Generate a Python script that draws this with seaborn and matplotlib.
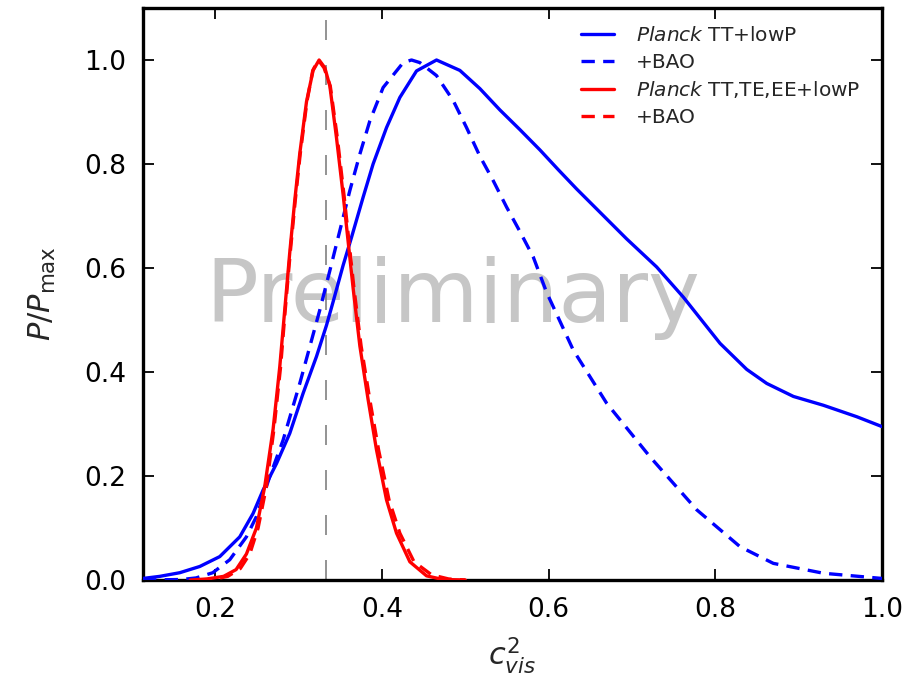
import matplotlib
matplotlib.use("Agg")
import matplotlib.pyplot as plt
import seaborn as sns
import pandas as pd

# ---- data ----
tt_x = [0.1133, 0.1334, 0.1574, 0.1814, 0.2054, 0.2294, 0.2454, 0.2574, 0.2735, 0.2894,
        0.3054, 0.3215, 0.3335, 0.3414, 0.3534, 0.3635, 0.3774, 0.3894, 0.4055, 0.4215,
        0.4415, 0.4655, 0.4935, 0.5175, 0.5415, 0.5656, 0.5896, 0.6116, 0.6336, 0.6736,
        0.6936, 0.7296, 0.7616, 0.8057, 0.8377, 0.8617, 0.8937, 0.9297, 0.9697, 1.0]
tt_y = [0.003, 0.007, 0.014, 0.026, 0.045, 0.083, 0.128, 0.173, 0.224, 0.282,
        0.359, 0.430, 0.490, 0.535, 0.605, 0.659, 0.736, 0.800, 0.870, 0.928,
        0.979, 1.0, 0.980, 0.945, 0.904, 0.866, 0.827, 0.789, 0.752, 0.688,
        0.656, 0.602, 0.544, 0.455, 0.405, 0.378, 0.353, 0.336, 0.314, 0.295]

ttbao_x = [0.1133, 0.14, 0.16, 0.177, 0.197, 0.2174, 0.2374, 0.2494, 0.2654, 0.2814,
           0.3014, 0.3254, 0.3375, 0.3495, 0.3615, 0.3735, 0.3855, 0.4014, 0.4255, 0.4355,
           0.4455, 0.4655, 0.4855, 0.5015, 0.5175, 0.5335, 0.5496, 0.5656, 0.5816, 0.5976,
           0.6296, 0.6696, 0.7216, 0.7777, 0.8297, 0.8696, 0.9297, 1.0]
ttbao_y = [0.0, 0.0005, 0.001, 0.004, 0.014, 0.039, 0.083, 0.122, 0.199, 0.269,
           0.378, 0.519, 0.595, 0.672, 0.749, 0.819, 0.883, 0.947, 0.995, 1.0,
           0.995, 0.970, 0.922, 0.870, 0.815, 0.768, 0.717, 0.670, 0.621, 0.553,
           0.442, 0.340, 0.237, 0.135, 0.064, 0.032, 0.013, 0.003]

all_x = [0.17, 0.19, 0.21, 0.225, 0.2374, 0.2494, 0.2594, 0.2694, 0.2774, 0.2834,
         0.2894, 0.2954, 0.3014, 0.3095, 0.3174, 0.3246, 0.3315, 0.3375, 0.3455, 0.3535,
         0.3595, 0.3655, 0.3735, 0.3835, 0.3935, 0.4055, 0.4175, 0.4335, 0.4535, 0.473, 0.50]
all_y = [0.0, 0.002, 0.007, 0.02, 0.05, 0.10, 0.18, 0.29, 0.41, 0.52,
         0.63, 0.73, 0.82, 0.92, 0.98, 1.0, 0.985, 0.95, 0.85, 0.74,
         0.65, 0.56, 0.45, 0.346, 0.25, 0.154, 0.09, 0.035, 0.008, 0.001, 0.0]

allbao_x = [0.18, 0.20, 0.215, 0.23, 0.2414, 0.2514, 0.2614, 0.2704, 0.2784, 0.2840,
            0.2900, 0.2960, 0.3020, 0.3100, 0.3170, 0.3236, 0.3305, 0.3380, 0.3465, 0.3545,
            0.3605, 0.3665, 0.3750, 0.3855, 0.3960, 0.4085, 0.4215, 0.4385, 0.4595, 0.48, 0.50]
allbao_y = [0.0, 0.002, 0.007, 0.022, 0.05, 0.10, 0.18, 0.29, 0.41, 0.52,
            0.63, 0.73, 0.82, 0.92, 0.98, 1.0, 0.985, 0.95, 0.85, 0.74,
            0.65, 0.56, 0.45, 0.346, 0.25, 0.154, 0.09, 0.035, 0.010, 0.002, 0.0]

labels = [r"$\mathit{Planck}$ TT+lowP", "+BAO",
          r"$\mathit{Planck}$ TT,TE,EE+lowP", "+BAO"]
x_ticks = [0.2, 0.4, 0.6, 0.8, 1.0]
y_ticks = [0.0, 0.2, 0.4, 0.6, 0.8, 1.0]
ref_line = 1.0 / 3.0
watermark = "Preliminary"

# ---- style ----
sns.set_style("ticks")
plt.rcParams["font.family"] = ["DejaVu Sans"]
plt.rcParams["mathtext.fontset"] = "dejavusans"

fig = plt.figure(figsize=(9.19, 6.80), dpi=100)
ax = fig.add_axes([143 / 919, 100 / 680, 739 / 919, 572 / 680])

ax.text(0.4855, 0.497, watermark, fontsize=63, color="#c6c6c6", ha="center",
        va="baseline", zorder=0)
vline = ax.axvline(ref_line, color="#808080", lw=1.2, zorder=1)
vline.set_dashes((12, 15))

series = [
    (tt_x, tt_y, "blue", "-", labels[0]),
    (ttbao_x, ttbao_y, "blue", "--", labels[1]),
    (all_x, all_y, "red", "-", labels[2]),
    (allbao_x, allbao_y, "red", "--", labels[3]),
]
for xs, ys, col, ls, lab in series:
    df = pd.DataFrame({"x": xs, "y": ys})
    n_before = len(ax.get_lines())
    sns.lineplot(data=df, x="x", y="y", ax=ax, color=col, linestyle=ls,
                 linewidth=2.4, label=lab, sort=False, zorder=3)
    ln = ax.get_lines()[n_before]
    if ls == "--":
        ln.set_dashes((4, 2.5))

ax.set_xlim(0.1133, 1.0)
ax.set_ylim(0.0, 1.1)
ax.set_xticks(x_ticks)
ax.set_yticks(y_ticks)
ax.set_xticklabels([f"{v:.1f}" for v in x_ticks])
ax.set_yticklabels([f"{v:.1f}" for v in y_ticks])
ax.tick_params(direction="in", length=8, width=1.3, top=True, right=True,
               labelsize=19, pad=12, colors="black")
for sp in ax.spines.values():
    sp.set_visible(True)
    sp.set_linewidth(2.4)
    sp.set_color("black")

ax.set_xlabel(r"$c^2_{vis}$", fontsize=22, labelpad=9)
ax.set_ylabel(r"$P/P_{\rm max}$", fontsize=22, labelpad=19)

leg = ax.legend(loc="upper left", bbox_to_anchor=(0.573, 0.993), frameon=False,
                fontsize=14.5, handlelength=1.65, labelspacing=0.38, handletextpad=1.1,
                borderaxespad=0.3)
for h in leg.get_lines():
    h.set_linewidth(2.4)

fig.savefig("out.png", dpi=100)
